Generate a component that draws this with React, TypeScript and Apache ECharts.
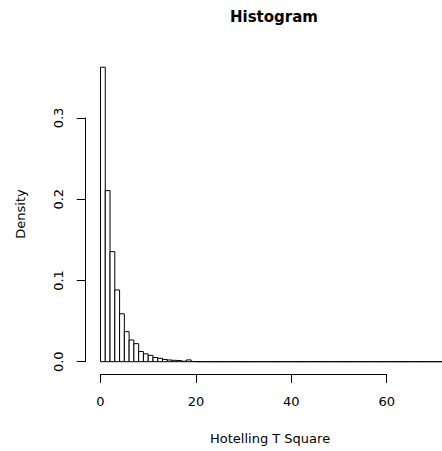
import React, { useEffect, useRef } from "react";
import * as echarts from "echarts";

// Histogram of Hotelling T Square, bin width 1, density scale
const binWidth = 1;
const densities: number[] = [
  0.3625, 0.2106, 0.1355, 0.0883, 0.059, 0.037, 0.0267, 0.0222, 0.0125, 0.0097,
  0.0078, 0.0052, 0.0042, 0.0028, 0.0021, 0.0017, 0.0014, 0.0006, 0.0022, 0.0003,
  0, 0, 0, 0, 0, 0, 0, 0, 0, 0,
  0, 0, 0, 0, 0, 0, 0, 0, 0, 0,
  0, 0, 0, 0, 0, 0, 0, 0, 0, 0,
  0, 0, 0, 0, 0, 0, 0, 0, 0, 0,
  0, 0, 0, 0, 0, 0, 0, 0, 0, 0,
  0, 0, 0, 0.0003,
];
const xTicks = [0, 20, 40, 60];
const yTicks = [0, 0.1, 0.2, 0.3];
const titleText = "Histogram";
const xTitle = "Hotelling T Square";
const yTitle = "Density";

const FONT = "DejaVu Sans";

export default function App() {
  const ref = useRef<HTMLDivElement>(null);
  useEffect(() => {
    if (!ref.current) return;
    const chart = echarts.init(ref.current, null, { renderer: "svg" });
    const data = densities.map((d, i) => [i * binWidth, (i + 1) * binWidth, d]);
    chart.setOption({
      animation: false,
      backgroundColor: "#ffffff",
      grid: { left: 100.5, right: 55.3, top: 118, bottom: 89.3, containLabel: false },
      xAxis: {
        type: "value",
        min: xTicks[0],
        max: xTicks[xTicks.length - 1],
        interval: 20,
        offset: 12.3,
        axisLine: { show: true, onZero: false, lineStyle: { color: "#000", width: 1 } },
        axisTick: { show: true, length: 9, lineStyle: { color: "#000", width: 1 } },
        splitLine: { show: false },
        axisLabel: { color: "#000", fontFamily: FONT, fontSize: 13, margin: 21 },
      },
      yAxis: {
        type: "value",
        min: yTicks[0],
        max: yTicks[yTicks.length - 1],
        interval: 0.1,
        offset: 14.8,
        axisLine: { show: true, onZero: false, lineStyle: { color: "#000", width: 1 } },
        axisTick: { show: true, length: 9, lineStyle: { color: "#000", width: 1 } },
        splitLine: { show: false },
        axisLabel: {
          color: "#000",
          fontFamily: FONT,
          fontSize: 13,
          margin: 21,
          rotate: 90,
          formatter: (v: number) => v.toFixed(1),
        },
      },
      graphic: [
        {
          type: "text",
          left: 230,
          top: 9,
          style: { text: titleText, fill: "#000", font: `bold 15px "${FONT}"` },
        },
        {
          type: "text",
          left: 210,
          top: 432,
          style: { text: xTitle, fill: "#000", font: `13px "${FONT}"` },
        },
        {
          type: "text",
          x: 20,
          y: 214,
          rotation: Math.PI / 2,
          style: {
            text: yTitle,
            fill: "#000",
            font: `13px "${FONT}"`,
            align: "center",
            verticalAlign: "middle",
          },
        },
      ],
      series: [
        {
          type: "custom",
          clip: false,
          data,
          renderItem: (params: any, api: any) => {
            const x0 = api.value(0);
            const x1 = api.value(1);
            const d = api.value(2);
            const p0 = api.coord([x0, 0]);
            const p1 = api.coord([x1, d]);
            return {
              type: "polygon",
              shape: {
                points: [
                  [p0[0], p0[1]],
                  [p0[0], p1[1]],
                  [p1[0], p1[1]],
                  [p1[0], p0[1]],
                ],
              },
              style: { fill: "#ffffff", stroke: "#000", lineWidth: 1 },
            };
          },
        },
      ],
    });
    return () => chart.dispose();
  }, []);
  return (
    <div
      ref={ref}
      style={{ position: "fixed", left: 0, top: 0, width: 442, height: 451 }}
    />
  );
}
